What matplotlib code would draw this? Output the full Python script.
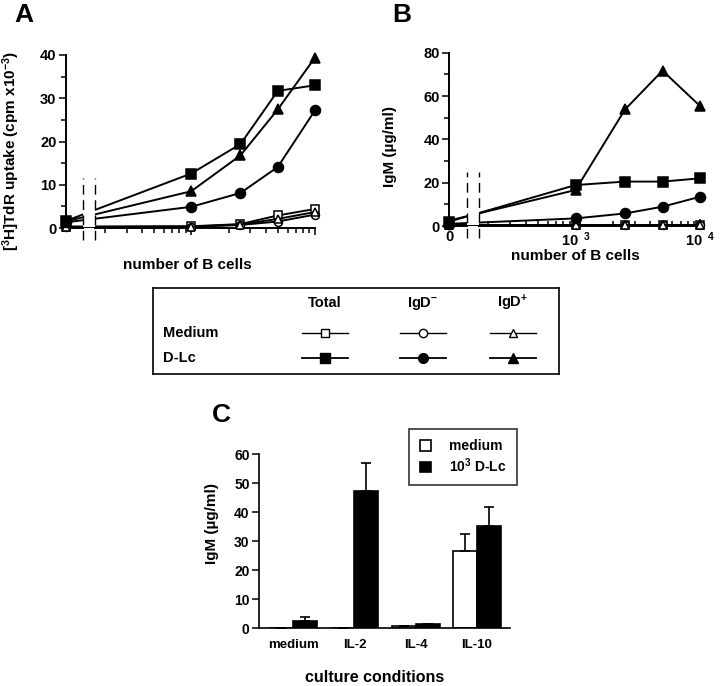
import numpy as np
import matplotlib
matplotlib.use('Agg')
import matplotlib.pyplot as plt
from matplotlib.lines import Line2D
from matplotlib.patches import Rectangle

plt.rcParams['font.family'] = ['Liberation Sans', 'DejaVu Sans']
plt.rcParams['font.weight'] = 'bold'
plt.rcParams['axes.labelweight'] = 'bold'
plt.rcParams['mathtext.fontset'] = 'custom'
plt.rcParams['mathtext.rm'] = 'Liberation Sans:bold'
plt.rcParams['mathtext.it'] = 'Liberation Sans:bold'
plt.rcParams['mathtext.bf'] = 'Liberation Sans:bold'
plt.rcParams['mathtext.sf'] = 'Liberation Sans:bold'

# ---------------- data ----------------
cells = [0, 1000, 2500, 5000, 10000]

# Panel A: [3H]TdR uptake (cpm x10^-3)
a_total_med = [0.3, 0.4, 0.9, 2.9, 4.4]
a_total_dlc = [1.6, 12.6, 19.4, 31.7, 33.0]
a_igdneg_med = [0.3, 0.3, 0.7, 1.5, 3.1]
a_igdneg_dlc = [1.3, 4.9, 8.1, 14.1, 27.2]
a_igdpos_med = [0.2, 0.3, 0.8, 2.1, 3.7]
a_igdpos_dlc = [1.5, 8.5, 16.8, 27.4, 39.4]

# Panel B: IgM (ug/ml)
b_total_med = [0.5, 0.5, 0.5, 0.5, 0.5]
b_total_dlc = [2.0, 18.9, 20.5, 20.5, 22.0]
b_igdneg_med = [0.5, 0.5, 0.5, 0.5, 0.5]
b_igdneg_dlc = [1.0, 3.5, 5.8, 8.9, 13.5]
b_igdpos_med = [0.5, 0.5, 0.5, 0.5, 0.5]
b_igdpos_dlc = [2.5, 16.6, 53.8, 71.7, 55.4]

# Panel C
conditions = ['medium', 'IL-2', 'IL-4', 'IL-10']
c_medium = [0.0, 0.0, 0.9, 26.8]
c_medium_err = [0.0, 0.0, 0.0, 5.6]
c_dlc = [2.6, 47.4, 1.5, 35.4]
c_dlc_err = [1.4, 9.7, 0.0, 6.5]

legend_cols = ['Total', r'IgD$^{-}$', r'IgD$^{+}$']
legend_rows = ['Medium', 'D-Lc']
col_markers = ['s', 'o', '^']

W, H = 720, 686
fig = plt.figure(figsize=(7.2, 6.86), dpi=100)


def px_axes(x0, x1, y_top, y_bot):
    return fig.add_axes([x0 / W, (H - y_bot) / H, (x1 - x0) / W, (y_bot - y_top) / H])


LW = 1.4


def line_panel(ax, series, ymax, ystep, brk_top, xdir):
    ax.set_xscale('symlog', linthresh=100, linscale=0.0145)
    for vals, marker, filled in series:
        ms = 7.2
        if not filled:
            ms -= 1.5
        ax.plot(cells, vals, color='black', lw=LW, marker=marker, ms=ms,
                mfc='black' if filled else 'white', mec='black', mew=1.1,
                clip_on=False, zorder=3)
    ax.set_xlim(0, 10000)
    ax.set_ylim(0, ymax)
    ax.set_yticks(np.arange(0, ymax + 1, ystep))
    ax.set_yticks(np.arange(ystep / 2, ymax, ystep), minor=True)
    minors = [m * 10 ** e for e in (2, 3) for m in range(2, 10)]
    ax.set_xticks(minors, minor=True)
    ax.xaxis.set_minor_formatter(plt.NullFormatter())
    for s in ('top', 'right', 'bottom'):
        ax.spines[s].set_visible(False)
    ax.spines['left'].set_linewidth(LW)
    ax.tick_params(axis='y', which='both', direction='out', width=1.1,
                   labelsize=10.5, pad=1.5)
    ax.tick_params(axis='x', which='both', direction=xdir, width=1.1,
                   labelsize=10.5, pad=3)
    ax.tick_params(axis='both', which='major', length=5)
    ax.tick_params(axis='both', which='minor', length=3.5)
    bl, br = 0.07, 0.12
    # bottom axis line with a break
    for xs in ([0, bl], [br, 1]):
        ax.add_line(Line2D(xs, [0, 0], transform=ax.transAxes, color='black',
                           lw=LW, clip_on=False, zorder=2.5))
    ax.add_patch(Rectangle((bl + 0.002, 0.005), br - bl - 0.004, 0.35,
                           transform=ax.transAxes, fc='white', ec='none',
                           zorder=4, clip_on=False))
    for xb in (bl, br):
        ax.add_line(Line2D([xb, xb], [-0.07, brk_top], transform=ax.transAxes,
                           color='black', lw=1.0, ls=(0, (7, 4)),
                           clip_on=False, zorder=5))


# ---------------- Panel A ----------------
axA = px_axes(65.5, 315, 55, 228)
line_panel(axA, [
    (a_total_med, 's', False), (a_igdneg_med, 'o', False), (a_igdpos_med, '^', False),
    (a_igdneg_dlc, 'o', True), (a_igdpos_dlc, '^', True), (a_total_dlc, 's', True)],
    40, 10, 0.29, 'out')
axA.set_xticks([1000, 10000])
axA.set_xticklabels(['', ''])
axA.set_ylabel(r'[$^{3}$H]TdR uptake (cpm x10$^{-3}$)', fontsize=11)
axA.yaxis.set_label_coords(-0.218, 0.445)
axA.yaxis.label.set_va('center')
axA.set_xlabel('number of B cells', fontsize=11)
axA.xaxis.set_label_coords(0.487, -0.214)
axA.xaxis.label.set_va('center')
fig.text(14 / W, 1 - 15 / H, 'A', fontsize=19, fontweight='bold', va='center')

# ---------------- Panel B ----------------
axB = px_axes(449, 700, 52.7, 226)
line_panel(axB, [
    (b_total_med, 's', False), (b_igdneg_med, 'o', False), (b_igdpos_med, '^', False),
    (b_igdneg_dlc, 'o', True), (b_total_dlc, 's', True), (b_igdpos_dlc, '^', True)],
    80, 20, 0.31, 'in')
axB.set_xticks([0, 1000, 10000])
axB.set_xticklabels(['0', r'10$^{\ \ 3}$', r'10$^{\ \ 4}$'])
axB.xaxis.get_major_ticks()[0].tick1line.set_visible(False)
axB.set_ylabel('IgM (µg/ml)', fontsize=11)
axB.yaxis.set_label_coords(-0.237, 0.459)
axB.yaxis.label.set_va('center')
axB.set_xlabel('number of B cells', fontsize=11)
axB.xaxis.set_label_coords(0.502, -0.173)
axB.xaxis.label.set_va('center')
fig.text(392 / W, 1 - 15 / H, 'B', fontsize=19, fontweight='bold', va='center')

# ---------------- Legend box ----------------
axL = px_axes(153, 559, 288, 374)
axL.set_xlim(153, 559)
axL.set_ylim(374, 288)
axL.set_xticks([])
axL.set_yticks([])
for s in axL.spines.values():
    s.set_linewidth(1.2)
col_x = [325, 423, 513]
row_y = [333, 358]
for cx, lab in zip(col_x, legend_cols):
    axL.text(cx, 303, lab, ha='center', va='center', fontsize=10.5)
for ry, lab in zip(row_y, legend_rows):
    axL.text(163, ry, lab, ha='left', va='center', fontsize=10.5)
for cx, mk in zip(col_x, col_markers):
    for ry, filled in zip(row_y, (False, True)):
        axL.plot([cx - 23, cx + 23], [ry, ry], color='black', lw=1.3 if filled else 1.0)
        axL.plot([cx], [ry], marker=mk, ms=7 if filled else 6,
                 mfc='black' if filled else 'white', mec='black', mew=1.0)

# ---------------- Panel C ----------------
axC = px_axes(259.3, 510, 454.3, 628.3)
x = np.arange(len(conditions))
bw = 0.39
b1 = axC.bar(x - bw / 2, c_medium, bw, color='white', edgecolor='black', lw=1.2,
             yerr=[np.zeros(len(x)), c_medium_err], capsize=3.6,
             error_kw=dict(ecolor='black', elinewidth=1.2, capthick=1.2),
             label='medium')
b2 = axC.bar(x + bw / 2, c_dlc, bw, color='black', edgecolor='black', lw=1.2,
             yerr=[np.zeros(len(x)), c_dlc_err], capsize=3.6,
             error_kw=dict(ecolor='black', elinewidth=1.2, capthick=1.2),
             label=r'10$^{3}$ D-Lc')
axC.set_xlim(-0.555, 3.54)
axC.set_ylim(0, 60)
axC.set_yticks(np.arange(0, 61, 10))
axC.set_xticks(x)
axC.set_xticklabels(conditions)
for s in ('top', 'right'):
    axC.spines[s].set_visible(False)
for s in ('left', 'bottom'):
    axC.spines[s].set_linewidth(1.2)
axC.tick_params(axis='y', direction='out', length=5, width=1.1, labelsize=10, pad=2)
axC.tick_params(axis='x', length=0, labelsize=9.5, pad=8)
axC.set_ylabel('IgM (µg/ml)', fontsize=11)
axC.yaxis.set_label_coords(-0.19, 0.6)
axC.yaxis.label.set_va('center')
axC.set_xlabel('culture conditions', fontsize=11.5)
axC.xaxis.set_label_coords(0.46, -0.28)
axC.xaxis.label.set_va('center')
leg = axC.legend(handles=[b1, b2], loc='upper right', bbox_to_anchor=(1.028, 1.145),
                 borderaxespad=0, frameon=True, fancybox=False, edgecolor='black',
                 fontsize=10, handlelength=0.8, handleheight=0.8, handletextpad=1.3,
                 borderpad=0.75, labelspacing=0.2)
leg.get_frame().set_linewidth(1.2)
fig.text(212 / W, 1 - 415 / H, 'C', fontsize=19, fontweight='bold', va='center')

fig.savefig('out.png', dpi=100)
